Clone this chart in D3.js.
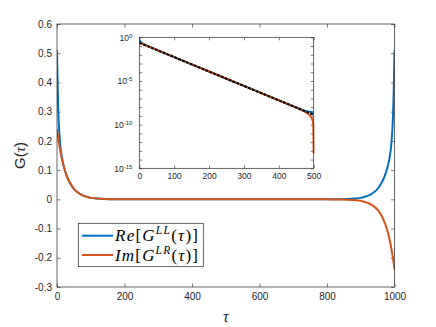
<!DOCTYPE html>
<html>
<head>
<meta charset="utf-8">
<script src="https://cdn.jsdelivr.net/npm/d3@7"></script>
<style>
  body { margin: 0; background: #fff; }
</style>
</head>
<body>
<script>
// main plot: G(tau) for tau in [0, 1000]
const tau = [0, 1, 2, 3, 4, 5, 6, 8, 10, 12, 15, 20, 25, 30, 40, 50, 60, 70, 80, 90, 100, 120, 140, 160, 180, 200,
    300, 400, 500, 600, 700,
    800, 820, 840, 860, 880, 900, 910, 920, 930, 940, 950, 960, 970, 975, 980, 985, 988, 990, 992, 994, 995, 996, 997, 998, 999, 1000];
const reLL = [0.510, 0.445, 0.390, 0.340, 0.300, 0.268, 0.245, 0.210, 0.182, 0.162, 0.140, 0.113, 0.093, 0.077, 0.053, 0.036, 0.025, 0.017, 0.012, 0.008, 0.005, 0.0025, 0.0012, 0.0005, 0.0003, 0.0001,
    0, 0, 0, 0, 0,
    0.0001, 0.0003, 0.0005, 0.0012, 0.0025, 0.005, 0.008, 0.012, 0.017, 0.025, 0.036, 0.053, 0.077, 0.093, 0.113, 0.140, 0.162, 0.182, 0.210, 0.245, 0.268, 0.300, 0.340, 0.390, 0.445, 0.510];
const imLR = [0.240, 0.231, 0.223, 0.214, 0.206, 0.198, 0.191, 0.177, 0.164, 0.152, 0.136, 0.112, 0.093, 0.077, 0.053, 0.036, 0.025, 0.017, 0.012, 0.008, 0.005, 0.0025, 0.0012, 0.0005, 0.0003, 0.0001,
    0, 0, 0, 0, 0,
    -0.0001, -0.0003, -0.0005, -0.0012, -0.0025, -0.005, -0.008, -0.012, -0.017, -0.025, -0.036, -0.053, -0.077, -0.093, -0.112, -0.136, -0.152, -0.164, -0.177, -0.191, -0.198, -0.206, -0.214, -0.223, -0.231, -0.240];

// inset: |G| on log scale, tau in [0, 500]
const tauIn = [0, 5, 10, 50, 100, 150, 200, 250, 300, 350, 400, 450, 470, 480, 490, 495, 498, 499, 500];
const reIn = [0.51, 0.268, 0.182, 0.0359, 0.00537, 8.0e-4, 1.2e-4, 1.8e-5, 2.7e-6, 4.0e-7, 6.0e-8, 9.2e-9, 4.6e-9, 3.5e-9, 2.9e-9, 2.75e-9, 2.7e-9, 2.7e-9, 2.7e-9];
const imIn = [0.24, 0.198, 0.164, 0.0359, 0.00537, 8.0e-4, 1.2e-4, 1.8e-5, 2.7e-6, 4.0e-7, 6.0e-8, 9.0e-9, 3.8e-9, 2.25e-9, 1.05e-9, 5.2e-10, 2.0e-10, 1.0e-10, 5e-14];
const fitTau = [0, 500];
const fitVal = [0.24, 1.35e-9];

const xTicks = [0, 200, 400, 600, 800, 1000];
const yTicks = [-0.3, -0.2, -0.1, 0, 0.1, 0.2, 0.3, 0.4, 0.5, 0.6];
const xTicksIn = [0, 100, 200, 300, 400, 500];
const yTicksIn = [1e0, 1e-1, 1e-2, 1e-3, 1e-4, 1e-5, 1e-6, 1e-7, 1e-8, 1e-9, 1e-10, 1e-11, 1e-12, 1e-13, 1e-14, 1e-15];

const seriesName = ['Re', 'Im'];
const seriesSup = ['LL', 'LR'];
const colors = ['#0072BD', '#D95319'];

const W = 436, H = 327;
const axisColor = '#262626';
const sans = '"Liberation Sans", Arial, Helvetica, sans-serif';
const serif = '"Liberation Serif", "Times New Roman", serif';

const svg = d3.select('body').append('svg')
    .attr('width', W).attr('height', H)
    .style('font-family', sans);

// ---------- main axes ----------
const m = { left: 57, right: 394.5, top: 24, bottom: 287 };
const x = d3.scaleLinear().domain([0, 1000]).range([m.left, m.right]);
const y = d3.scaleLinear().domain([-0.3, 0.6]).range([m.bottom, m.top]);

const fmt = d => String(+(+d).toFixed(1));

function styleAxis(g, fs) {
    g.select('.domain').remove();
    g.attr('color', axisColor).attr('font-size', fs).attr('font-family', sans);
    g.selectAll('line').attr('stroke-width', 0.6);
}

svg.append('g').attr('transform', `translate(0,${m.bottom})`)
    .call(d3.axisBottom(x).tickValues(xTicks).tickSize(-3.5).tickPadding(6).tickFormat(d3.format('d')))
    .call(g => styleAxis(g, 10));
svg.append('g').attr('transform', `translate(0,${m.top})`)
    .call(d3.axisTop(x).tickValues(xTicks).tickSize(-3.5).tickFormat(''))
    .call(g => styleAxis(g, 10));
svg.append('g').attr('transform', `translate(${m.left},0)`)
    .call(d3.axisLeft(y).tickValues(yTicks).tickSize(-3.5).tickPadding(5).tickFormat(fmt))
    .call(g => styleAxis(g, 10));
svg.append('g').attr('transform', `translate(${m.right},0)`)
    .call(d3.axisRight(y).tickValues(yTicks).tickSize(-3.5).tickFormat(''))
    .call(g => styleAxis(g, 10));

svg.append('clipPath').attr('id', 'clipMain').append('rect')
    .attr('x', m.left).attr('y', m.top - 2).attr('width', m.right - m.left).attr('height', m.bottom - m.top + 4);

const line = d3.line().x(d => x(d[0])).y(d => y(d[1])).curve(d3.curveMonotoneX);
[reLL, imLR].forEach((vals, i) => {
    svg.append('path')
        .attr('clip-path', 'url(#clipMain)')
        .attr('d', line(tau.map((t, k) => [t, vals[k]])))
        .attr('fill', 'none').attr('stroke', colors[i]).attr('stroke-width', 2);
});

svg.append('rect')
    .attr('x', m.left).attr('y', m.top).attr('width', m.right - m.left).attr('height', m.bottom - m.top)
    .attr('fill', 'none').attr('stroke', axisColor).attr('stroke-width', 0.7);

// axis labels
const yl = svg.append('text')
    .attr('transform', `translate(25,${(m.top + m.bottom) / 2}) rotate(-90)`)
    .attr('text-anchor', 'middle').attr('font-size', 15).attr('fill', axisColor);
yl.append('tspan').text('G(');
yl.append('tspan').attr('font-family', serif).attr('font-style', 'italic').text('τ');
yl.append('tspan').text(')');

svg.append('text')
    .attr('x', (m.left + m.right) / 2).attr('y', 322)
    .attr('text-anchor', 'middle').attr('font-family', serif).attr('font-style', 'italic')
    .attr('font-size', 16).attr('fill', axisColor).text('τ');

// ---------- inset ----------
const n = { left: 139.3, right: 313.7, top: 37.3, bottom: 168.3 };
const xi = d3.scaleLinear().domain([0, 500]).range([n.left, n.right]);
const yi = d3.scaleLog().domain([1e-15, 1]).range([n.bottom, n.top]);

svg.append('rect')
    .attr('x', n.left).attr('y', n.top).attr('width', n.right - n.left).attr('height', n.bottom - n.top)
    .attr('fill', '#fff');

svg.append('g').attr('transform', `translate(0,${n.bottom})`)
    .call(d3.axisBottom(xi).tickValues(xTicksIn).tickSize(-3).tickPadding(5).tickFormat(d3.format('d')))
    .call(g => styleAxis(g, 8.5));
svg.append('g').attr('transform', `translate(0,${n.top})`)
    .call(d3.axisTop(xi).tickValues(xTicksIn).tickSize(-3).tickFormat(''))
    .call(g => styleAxis(g, 8.5));
svg.append('g').attr('transform', `translate(${n.left},0)`)
    .call(d3.axisLeft(yi).tickValues(yTicksIn).tickSize(-3).tickPadding(7).tickFormat(''))
    .call(g => styleAxis(g, 8.5))
    .call(g => g.selectAll('.tick text').each(function (d) {
        const e = Math.round(Math.log10(d));
        if (e % 5 !== 0) return;
        const t = d3.select(this);
        t.append('tspan').text('10');
        t.append('tspan').attr('dy', '-0.45em').attr('font-size', 6).text(e === 0 ? '0' : '-' + Math.abs(e));
    }));
svg.append('g').attr('transform', `translate(${n.right},0)`)
    .call(d3.axisRight(yi).tickValues(yTicksIn).tickSize(-3).tickFormat(''))
    .call(g => styleAxis(g, 8.5));

svg.append('clipPath').attr('id', 'clipIn').append('rect')
    .attr('x', n.left).attr('y', n.top).attr('width', n.right - n.left + 1).attr('height', n.bottom - n.top);

const lineIn = d3.line().x(d => xi(d[0])).y(d => yi(d[1]));
[reIn, imIn].forEach((vals, i) => {
    svg.append('path')
        .attr('clip-path', 'url(#clipIn)')
        .attr('d', lineIn(tauIn.map((t, k) => [t, vals[k]])))
        .attr('fill', 'none').attr('stroke', colors[i]).attr('stroke-width', 2);
});
svg.append('path')
    .attr('clip-path', 'url(#clipIn)')
    .attr('d', lineIn(fitTau.map((t, k) => [t, fitVal[k]])))
    .attr('fill', 'none').attr('stroke', '#000').attr('stroke-width', 2)
    .attr('stroke-dasharray', '3,1.2');

svg.append('rect')
    .attr('x', n.left).attr('y', n.top).attr('width', n.right - n.left).attr('height', n.bottom - n.top)
    .attr('fill', 'none').attr('stroke', axisColor).attr('stroke-width', 0.7);

// ---------- legend ----------
const lg = svg.append('g');
lg.append('rect')
    .attr('x', 78.3).attr('y', 223.3).attr('width', 125).attr('height', 43.4)
    .attr('fill', '#fff').attr('stroke', axisColor).attr('stroke-width', 0.7);
seriesName.forEach((name, i) => {
    const cy = 235.7 + i * 19.3;
    lg.append('line')
        .attr('x1', 82).attr('x2', 113).attr('y1', cy).attr('y2', cy)
        .attr('stroke', colors[i]).attr('stroke-width', 2);
    const t = lg.append('text')
        .attr('x', 115).attr('y', cy + 5.5)
        .attr('font-family', serif).attr('font-size', 17).attr('fill', '#000')
        .attr('textLength', 83).attr('lengthAdjust', 'spacing');
    t.append('tspan').attr('font-style', 'italic').text(name);
    t.append('tspan').text('[');
    t.append('tspan').attr('font-style', 'italic').text('G');
    t.append('tspan').attr('font-style', 'italic').attr('font-size', 11.5).attr('dy', -7).text(seriesSup[i]);
    t.append('tspan').attr('dy', 7).text('(');
    t.append('tspan').attr('font-style', 'italic').text('τ');
    t.append('tspan').text(')]');
});
</script>
</body>
</html>
